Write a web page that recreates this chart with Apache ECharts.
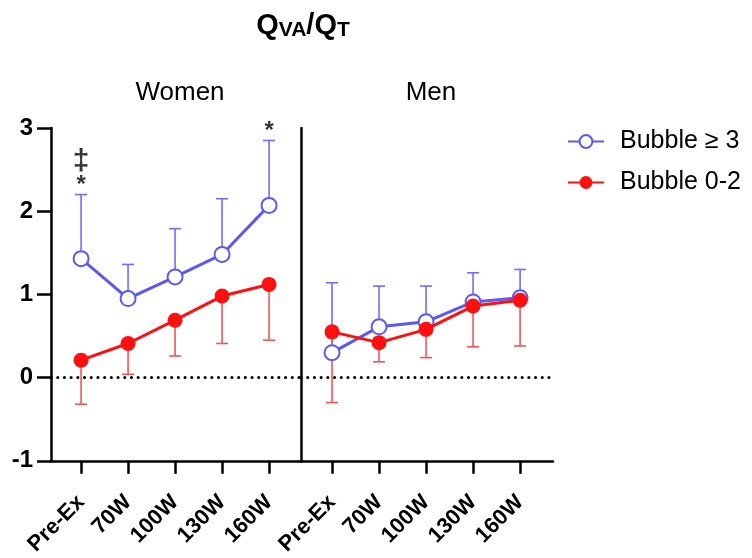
<!DOCTYPE html>
<html><head><meta charset="utf-8">
<script src="https://cdn.jsdelivr.net/npm/echarts@6/dist/echarts.min.js"></script>
<style>html,body{margin:0;padding:0;background:#fff}#c{width:752px;height:558px}</style>
</head><body><div id="c"></div>
<script>
const categories = ['Pre-Ex', '70W', '100W', '130W', '160W'];
const panels = ['Women', 'Men'];
const seriesNames = ['Bubble \u2265 3', 'Bubble 0-2'];
const womenBlue = [1.43, 0.95, 1.21, 1.48, 2.07];
const womenBlueUpper = [2.20, 1.36, 1.79, 2.15, 2.85];
const womenRed = [0.21, 0.41, 0.69, 0.98, 1.12];
const womenRedLower = [-0.32, 0.04, 0.26, 0.41, 0.45];
const menBlue = [0.30, 0.61, 0.67, 0.91, 0.96];
const menBlueUpper = [1.14, 1.10, 1.10, 1.26, 1.30];
const menRed = [0.55, 0.42, 0.58, 0.86, 0.93];
const menRedLower = [-0.30, 0.19, 0.24, 0.37, 0.38];
const womenAnnotations = ['{d|\u2021}\n{a|*}', '', '', '', '{a|*}'];

const FONT = 'Liberation Sans, Arial, sans-serif';
const BLUE = '#5a5af2', BLUE_ERR = '#6e6ef8';
const RED = '#ff1010', RED_ERR = '#f25555';
const idx = categories.map((c, i) => i);

function pts(vals) { return vals.map((v, i) => [idx[i], v]); }
function errs(vals, ends) { return vals.map((v, i) => [idx[i], v, ends[i]]); }

function errSeries(grid, vals, ends, color) {
  return {
    type: 'custom', xAxisIndex: grid, yAxisIndex: grid, z: 1, silent: true,
    data: errs(vals, ends),
    renderItem: function (params, api) {
      const p0 = api.coord([api.value(0), api.value(1)]);
      const p1 = api.coord([api.value(0), api.value(2)]);
      const hw = 6;
      return { type: 'group', children: [
        { type: 'line', shape: { x1: p0[0], y1: p0[1], x2: p1[0], y2: p1[1] }, style: { stroke: color, lineWidth: 1.6 } },
        { type: 'line', shape: { x1: p1[0] - hw, y1: p1[1], x2: p1[0] + hw, y2: p1[1] }, style: { stroke: color, lineWidth: 1.6 } }
      ]};
    }
  };
}
const zeroLine = {
  silent: true, symbol: 'none', label: { show: false },
  lineStyle: { color: '#000', width: 3, type: [0.1, 6.6], cap: 'round' },
  data: [{ yAxis: 0 }]
};
function blueSeries(grid, vals, withZero) {
  const s = {
    name: seriesNames[0], type: 'line', xAxisIndex: grid, yAxisIndex: grid, z: 3,
    data: pts(vals), symbol: 'emptyCircle', symbolSize: 15,
    lineStyle: { color: BLUE, width: 3 },
    itemStyle: { color: BLUE, borderColor: BLUE, borderWidth: 3.2 }
  };
  if (withZero) s.markLine = zeroLine;
  return s;
}
function redSeries(grid, vals) {
  return {
    name: seriesNames[1], type: 'line', xAxisIndex: grid, yAxisIndex: grid, z: 4,
    data: pts(vals), symbol: 'circle', symbolSize: 15,
    lineStyle: { color: RED, width: 3 },
    itemStyle: { color: RED }
  };
}
function xAxis(grid, min, max) {
  return {
    type: 'value', gridIndex: grid, min: min, max: max,
    axisLine: { show: true, onZero: false, lineStyle: { color: '#000', width: 2.5 } },
    axisTick: { show: true, length: 13, lineStyle: { color: '#000', width: 2.5 }, customValues: idx },
    axisLabel: { show: true, customValues: idx, rotate: 45, margin: 38,
      formatter: v => categories[Math.round(v)], color: '#000', fontFamily: FONT, fontWeight: 'bold', fontSize: 22 },
    splitLine: { show: false }
  };
}
function yAxis(grid, showLabels) {
  return {
    type: 'value', gridIndex: grid, min: -1, max: 3, interval: 1,
    axisLine: { show: true, onZero: false, lineStyle: { color: '#000', width: 2.5 } },
    axisTick: { show: showLabels, length: 14, lineStyle: { color: '#000', width: 2.5 } },
    axisLabel: { show: showLabels, margin: 18, color: '#000', fontFamily: FONT, fontWeight: 'bold', fontSize: 24 },
    splitLine: { show: false }
  };
}

const chart = echarts.init(document.getElementById('c'), null, { renderer: 'canvas' });
chart.setOption({
  animation: false,
  backgroundColor: '#fff',
  title: [
    { text: '{q|Q}{s|VA}{q|/Q}{s|T}', left: 298, top: 6, textAlign: 'center',
      textStyle: { fontFamily: FONT, rich: {
        q: { fontSize: 29, fontWeight: 'bold', color: '#000', lineHeight: 30, verticalAlign: 'top', fontFamily: FONT },
        s: { fontSize: 21, fontWeight: 'bold', color: '#000', lineHeight: 18, padding: [15, 0, 0, 0], verticalAlign: 'bottom', fontFamily: FONT }
      } } },
    { text: panels[0], left: 175, top: 75, textAlign: 'center', textStyle: { fontFamily: FONT, fontSize: 26, fontWeight: 'normal', color: '#000' } },
    { text: panels[1], left: 426, top: 75, textAlign: 'center', textStyle: { fontFamily: FONT, fontSize: 26, fontWeight: 'normal', color: '#000' } }
  ],
  legend: {
    data: seriesNames, orient: 'vertical', left: 562, top: 124, itemWidth: 36, itemHeight: 16, itemGap: 16,
    textStyle: { fontFamily: FONT, fontSize: 25, color: '#000', padding: [0, 0, 0, 11] }
  },
  grid: [
    { left: 51, top: 128, width: 250, height: 334 },
    { left: 301, top: 128, width: 252, height: 334 }
  ],
  xAxis: [xAxis(0, -0.64, 4.68), xAxis(1, -0.66, 4.70)],
  yAxis: [yAxis(0, true), yAxis(1, false)],
  series: [
    errSeries(0, womenBlue, womenBlueUpper, BLUE_ERR),
    errSeries(0, womenRed, womenRedLower, RED_ERR),
    errSeries(1, menBlue, menBlueUpper, BLUE_ERR),
    errSeries(1, menRed, menRedLower, RED_ERR),
    blueSeries(0, womenBlue, true),
    blueSeries(1, menBlue, true),
    redSeries(0, womenRed),
    redSeries(1, menRed),
    {
      type: 'scatter', xAxisIndex: 0, yAxisIndex: 0, symbolSize: 0, silent: true, z: 5,
      data: womenBlueUpper.map((v, i) => [idx[i], v, womenAnnotations[i]]).filter(d => d[2]),
      label: { show: true, position: 'top', distance: 0, formatter: p => p.data[2], color: '#000',
        rich: {
          d: { fontFamily: FONT, fontSize: 30, fontWeight: 'bold', lineHeight: 30, color: '#000' },
          a: { fontFamily: FONT, fontSize: 24, fontWeight: 'bold', lineHeight: 18, color: '#000' }
        } }
    }
  ]
});
</script></body></html>
